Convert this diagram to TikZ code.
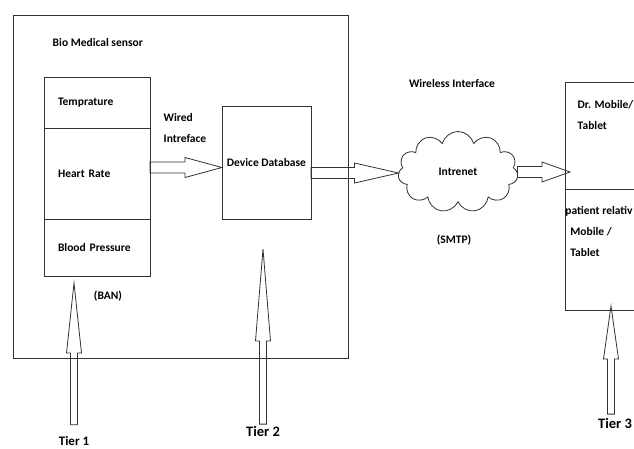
\documentclass[tikz,border=0pt]{standalone}
\usepackage{fontspec}
\setmainfont{Carlito}
\usetikzlibrary{positioning,shapes.symbols,calc}

\begin{document}
\begin{tikzpicture}[x=1pt, y=-1pt, line width=0.8pt, draw=black!80,
    font=\bfseries\fontsize{11.5}{21}\selectfont,
    part/.style={draw, outer sep=0pt, minimum width=106pt, text width=78pt, inner xsep=14pt, align=left},
    dev/.style={draw, outer sep=0pt, minimum width=80pt},
    tier/.style={font=\bfseries\fontsize{14.5}{16}\selectfont},
    hblk/.style={to path={let \p1=(\tikztostart), \p2=(\tikztotarget) in
      (\x1,\y1+5.5pt) -- (\x2-#1,\y1+5.5pt) -- (\x2-#1,\y1+10pt) -- (\x2,\y1)
      -- (\x2-#1,\y1-10pt) -- (\x2-#1,\y1-5.5pt) -- (\x1,\y1-5.5pt) -- cycle}},
    vblk/.style={to path={let \p1=(\tikztostart), \p2=(\tikztotarget) in
      (\x1-3.5pt,\y1) -- (\x1-3.5pt,\y2-#1) -- (\x1-7.5pt,\y2-#1) -- (\x1,\y2)
      -- (\x1+7.5pt,\y2-#1) -- (\x1+3.5pt,\y2-#1) -- (\x1+3.5pt,\y1) -- cycle}}]
  \useasboundingbox (0,0) rectangle (634,448);

  % tier 1 and 2 frame
  \node[draw, outer sep=0pt, minimum width=335pt, minimum height=343pt] (frame) at (180.5,186.5) {};
  \node[anchor=west] (title) at (49,43) {Bio Medical sensor};

  % sensors
  \node[part, minimum height=51pt, anchor=north west] (tmp) at (44,77) {Temprature};
  \node[part, minimum height=91pt, below=0pt of tmp] (hr) {Heart Rate};
  \node[part, minimum height=57pt, below=0pt of hr] (bp) {Blood Pressure};
  \node (ban) at (108,296) {(BAN)};

  \node[draw, outer sep=0pt, minimum width=89pt, minimum height=113pt] (db) at (266.5,162.5) {Device Database};
  \node[anchor=west, align=left] (wired) at (160,128) {Wired\\Intreface};

  % internet
  \node[cloud, draw, cloud puffs=11, cloud ignores aspect, minimum width=120pt, minimum height=81pt, inner sep=0pt] (net) at (458,172) {Intrenet};
  \node (wless) at (452,84) {Wireless Interface};
  \node (smtp) at (454,240) {(SMTP)};

  % tier 3 devices
  \node[dev, minimum height=107pt, anchor=north west] (dr) at (565,82) {};
  \node[dev, minimum height=121pt, below=0pt of dr] (pr) {};
  \node[anchor=west, align=left] (drtxt) at ([xshift=9pt,yshift=-33.5pt]dr.north west) {Dr. Mobile/\\Tablet};
  \node[anchor=west, align=left, inner xsep=0pt] (prtxt) at ([yshift=-42pt]pr.north west) {patient relativ\\\hspace{5pt}Mobile /\\\hspace{5pt}Tablet};

  \node[tier, font=\bfseries\fontsize{13}{14}\selectfont] (t1) at (74,441) {Tier 1};
  \node[tier] (t2) at (263,431) {Tier 2};
  \node[tier] (t3) at (615,423) {Tier 3};

  % block arrows
  \draw ([yshift=6pt]hr.east) to[hblk=37pt] (db.west);
  \draw ([yshift=-10.5pt]db.east) to[hblk=44pt] (net.west);
  \draw (net.east) to[hblk=28pt] ([xshift=5pt]dr.south west);
  \draw ([yshift=8pt]t1.north) to[vblk=70pt] ([yshift=-7pt]t1.north |- bp.south);
  \draw ([yshift=-2pt]t2.north) to[vblk=92pt] ([yshift=-30pt]t2.north |- db.south);
  \draw ([xshift=-4pt]t3.north) to[vblk=53pt] ([xshift=-4pt,yshift=4pt]t3.north |- pr.south);
\end{tikzpicture}
\end{document}
